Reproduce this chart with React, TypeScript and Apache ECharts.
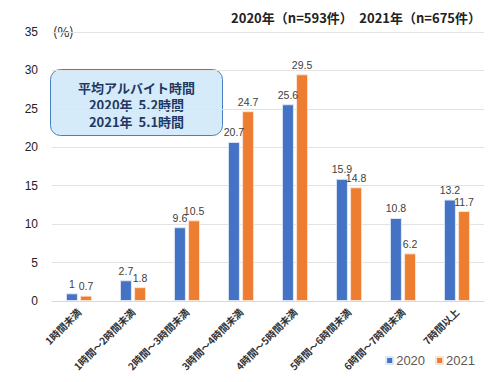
import React, { useEffect, useRef } from "react";
import * as echarts from "echarts";

const categories = [
  "1時間未満",
  "1時間～2時間未満",
  "2時間～3時間未満",
  "3時間～4時間未満",
  "4時間～5時間未満",
  "5時間～6時間未満",
  "6時間～7時間未満",
  "7時間以上",
];
const values2020 = [1, 2.7, 9.6, 20.7, 25.6, 15.9, 10.8, 13.2];
const values2021 = [0.7, 1.8, 10.5, 24.7, 29.5, 14.8, 6.2, 11.7];
const yTicks = { min: 0, max: 35, interval: 5 };
const titleText = "2020年（n=593件）　2021年（n=675件）";
const boxLines = ["平均アルバイト時間", "2020年  5.2時間", "2021年  5.1時間"];

const FONT = "'Noto Sans CJK JP', 'Noto Sans', sans-serif";
const NUMFONT = "'Liberation Sans', Arial, sans-serif";

export default function App() {
  const ref = useRef<HTMLDivElement>(null);
  useEffect(() => {
    if (!ref.current) return;
    const chart = echarts.init(ref.current, undefined, { renderer: "svg" });
    chart.setOption({
      animation: false,
      textStyle: { fontFamily: FONT },
      title: {
        text: titleText,
        right: 14,
        top: 6,
        textStyle: { fontSize: 13, fontWeight: "bold", color: "#222", fontFamily: FONT },
      },
      legend: {
        data: ["2020", "2021"],
        orient: "horizontal",
        right: 20,
        top: 349,
        icon: "rect",
        itemWidth: 7,
        itemHeight: 7,
        itemGap: 10,
        textStyle: { fontSize: 13, color: "#595959", fontFamily: NUMFONT, padding: [0, 0, 0, -2] },
      },
      grid: { left: 52, right: 16, top: 32, bottom: 81, containLabel: false },
      xAxis: {
        type: "category",
        data: categories,
        axisTick: { show: false },
        axisLine: { lineStyle: { color: "#D9D9D9" } },
        axisLabel: {
          rotate: 45,
          interval: 0,
          margin: 9,
          fontSize: 10,
          fontWeight: "bold",
          color: "#333",
          fontFamily: FONT,
        },
      },
      yAxis: {
        type: "value",
        min: yTicks.min,
        max: yTicks.max,
        interval: yTicks.interval,
        axisLine: { show: false },
        axisTick: { show: false },
        splitLine: { lineStyle: { color: "#E3E3E3" } },
        axisLabel: { fontSize: 12, color: "#222", margin: 14, fontFamily: NUMFONT },
      },
      series: [
        {
          name: "2020",
          type: "bar",
          data: values2020,
          barWidth: 12,
          barGap: "18%",
          itemStyle: { color: "#4472C4", borderColor: "#DCE6F5", borderWidth: 1 },
          label: { show: true, position: "top", fontSize: 10.5, color: "#404040", distance: 4, fontFamily: NUMFONT },
        },
        {
          name: "2021",
          type: "bar",
          data: values2021,
          barWidth: 12,
          itemStyle: { color: "#ED7D31", borderColor: "#FBE3D3", borderWidth: 1 },
          label: { show: true, position: "top", fontSize: 10.5, color: "#404040", distance: 4, fontFamily: NUMFONT },
        },
      ],
      graphic: [
        {
          type: "text",
          left: 53,
          top: 25,
          style: { text: "(%)", fontSize: 13, fill: "#222", fontFamily: FONT },
        },
        {
          type: "group",
          left: 50,
          top: 69,
          children: [
            {
              type: "rect",
              shape: { x: 0, y: 0, width: 172, height: 66, r: 10 },
              style: { fill: "#D6EBF9", stroke: "#4A7FC1", lineWidth: 1 },
            },
            {
              type: "text",
              x: 86,
              y: 9,
              style: {
                text: boxLines.join("\n"),
                fontSize: 13,
                lineHeight: 17,
                fontWeight: "bold",
                fill: "#1F3864",
                align: "center",
                fontFamily: FONT,
              },
            },
          ],
        },
      ],
    });
    return () => chart.dispose();
  }, []);
  return <div ref={ref} style={{ width: 500, height: 382, position: "absolute", left: 0, top: 0 }} />;
}
